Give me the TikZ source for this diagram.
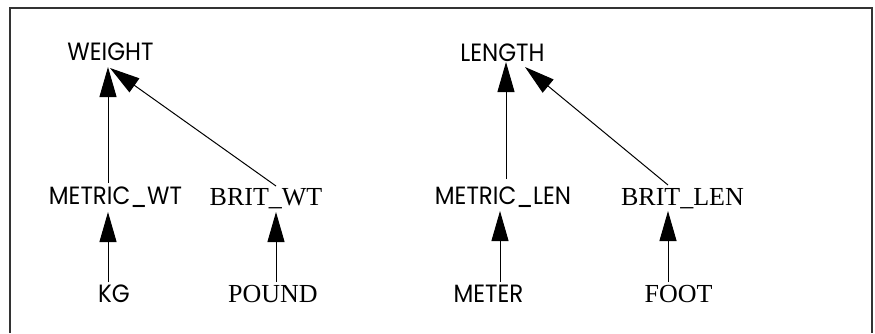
\documentclass[tikz,border=0pt]{standalone}
\usepackage{fontspec}
\setmainfont{Liberation Serif}
\newfontfamily\geofont[FakeStretch=0.92]{Poppins}
\usetikzlibrary{arrows.meta}
\tikzset{
  sanslab/.style={inner sep=0pt, outer sep=0pt, anchor=base, font=\geofont\fontsize{25}{27}\selectfont},
  seriflab/.style={inner sep=0pt, outer sep=0pt, anchor=base, font=\rmfamily\fontsize{26}{28}\selectfont},
  isa/.style={line width=1pt, -{Triangle[length=30pt,width=17pt]}},
  frameline/.style={line width=2pt, draw=black!80}
}
\begin{document}
\begin{tikzpicture}[x=1pt,y=-1pt]
\useasboundingbox (0,0) rectangle (875,333);
\draw[frameline] (9.8,333) -- (9.8,8) -- (872.2,8) -- (872.2,333);
% nodes
\node[sanslab] (weight) at (110.5,60) {WEIGHT};
\node[sanslab] (length) at (502.5,61) {LENGTH};
\node[sanslab] (metricwt) at (115.5,204) {METRIC\_WT};
\node[seriflab] (britwt) at (266,205) {BRIT\_WT};
\node[sanslab] (metriclen) at (503,204) {METRIC\_LEN};
\node[seriflab] (britlen) at (682.5,205) {BRIT\_LEN};
\node[sanslab] (kg) at (114,302) {KG};
\node[seriflab] (pound) at (273,302) {POUND};
\node[sanslab] (meter) at (488.5,302) {METER};
\node[seriflab] (foot) at (678.5,302) {FOOT};
% connectors
\draw[isa] ([shift={(-7.5,-21)}]metricwt.base) -- ([shift={(-2.5,7)}]weight.base);
\draw[isa] ([shift={(10,-19)}]britwt.base) -- ([shift={(-0.5,8)}]weight.base);
\draw[isa] ([shift={(-6,-20)}]kg.base) -- ([shift={(-7.5,8)}]metricwt.base);
\draw[isa] ([shift={(3,-20)}]pound.base) -- ([shift={(10,7)}]britwt.base);
\draw[isa] ([shift={(3,-25)}]metriclen.base) -- ([shift={(3.5,1)}]length.base);
\draw[isa] ([shift={(-14.5,-20)}]britlen.base) -- ([shift={(22.5,6)}]length.base);
\draw[isa] ([shift={(11.5,-20)}]meter.base) -- ([shift={(-3,7)}]metriclen.base);
\draw[isa] ([shift={(-10.5,-20)}]foot.base) -- ([shift={(-14.5,6)}]britlen.base);
\end{tikzpicture}
\end{document}
